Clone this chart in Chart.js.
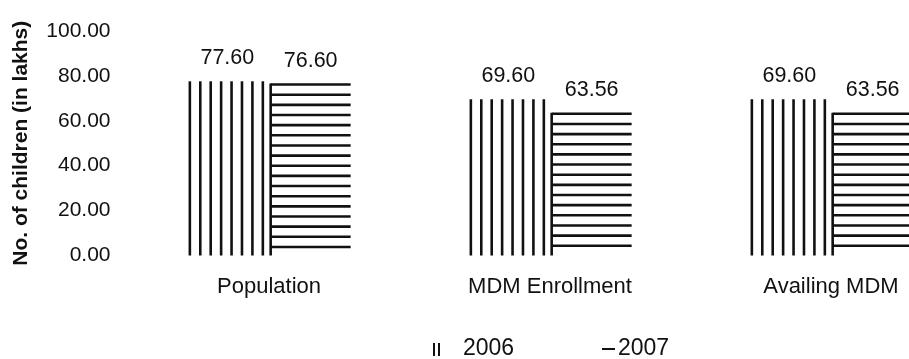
<!DOCTYPE html>
<html>
<head>
<meta charset="utf-8">
<script src="https://cdn.jsdelivr.net/npm/chart.js@4.4.1/dist/chart.umd.min.js"></script>
<style>
  html, body { margin: 0; padding: 0; background: #fff; width: 909px; height: 359px; overflow: hidden; }
  #wrap { position: absolute; left: 0; top: 0; width: 1000px; height: 359px; }
  #legend { position: absolute; left: 0; top: 0; width: 909px; height: 359px; pointer-events: none;
            font-family: "Liberation Sans", Arial, sans-serif; font-size: 23px; color: #111; }
  .lt { position: absolute; top: 334px; line-height: 26px; }
  .sw-v { position: absolute; top: 343px; width: 3px; height: 13px; border-left: 2px solid #111; border-right: 2px solid #111; }
  .sw-h { position: absolute; top: 348px; width: 13px; height: 0; border-top: 2px solid #111; }
</style>
</head>
<body>
<div id="wrap"><canvas id="c" width="1000" height="359"></canvas></div>
<div id="legend">
  <span class="sw-v" style="left:433px"></span>
  <span class="lt" id="l0" style="left:463px"></span>
  <span class="sw-h" style="left:602px"></span>
  <span class="lt" id="l1" style="left:618px"></span>
</div>
<script>
// ---- data ----
const categories = ['Population', 'MDM Enrollment', 'Availing MDM'];
const seriesNames = ['2006', '2007'];
const values2006 = [77.60, 69.60, 69.60];
const values2007 = [76.60, 63.56, 63.56];
const yTickValues = [0, 20, 40, 60, 80, 100];
const yTitle = 'No. of children (in lakhs)';

document.getElementById('l0').textContent = seriesNames[0];
document.getElementById('l1').textContent = seriesNames[1];

const INK = '#111';
const FONT = '"Liberation Sans", Arial, sans-serif';

const patternPlugin = {
  id: 'patterns',
  afterDatasetsDraw(chart) {
    const ctx = chart.ctx;
    ctx.save();
    ctx.strokeStyle = INK;
    ctx.lineWidth = 2.6;
    // 2006: vertical lines
    chart.getDatasetMeta(0).data.forEach(bar => {
      const p = bar.getProps(['x', 'y', 'base', 'width'], true);
      const left = p.x - p.width / 2 + 2.5;
      const right = p.x + p.width / 2 - 4.5;
      const n = 8;
      const step = (right - left) / (n - 1);
      for (let i = 0; i < n; i++) {
        const px = left + i * step;
        ctx.beginPath();
        ctx.moveTo(px, p.y);
        ctx.lineTo(px, p.base);
        ctx.stroke();
      }
    });
    // 2007: left border + horizontal lines
    chart.getDatasetMeta(1).data.forEach(bar => {
      const p = bar.getProps(['x', 'y', 'base', 'width'], true);
      const left = p.x - p.width / 2;
      const right = p.x + p.width / 2;
      ctx.beginPath();
      ctx.moveTo(left, p.y);
      ctx.lineTo(left, p.base);
      ctx.stroke();
      for (let yy = p.y + 1; yy <= p.base - 6; yy += 10.15) {
        ctx.beginPath();
        ctx.moveTo(left, yy);
        ctx.lineTo(right, yy);
        ctx.stroke();
      }
    });
    ctx.restore();
  }
};

const valueLabelPlugin = {
  id: 'valueLabels',
  afterDatasetsDraw(chart) {
    const ctx = chart.ctx;
    ctx.save();
    ctx.fillStyle = INK;
    ctx.font = '21.5px ' + FONT;
    ctx.textAlign = 'center';
    ctx.textBaseline = 'alphabetic';
    chart.data.datasets.forEach((ds, di) => {
      chart.getDatasetMeta(di).data.forEach((bar, i) => {
        ctx.fillText(ds.data[i].toFixed(2), bar.x, bar.y - 17);
      });
    });
    ctx.restore();
  }
};

new Chart(document.getElementById('c'), {
  type: 'bar',
  data: {
    labels: categories,
    datasets: [
      { label: seriesNames[0], data: values2006, backgroundColor: 'rgba(0,0,0,0)', borderWidth: 0 },
      { label: seriesNames[1], data: values2007, backgroundColor: 'rgba(0,0,0,0)', borderWidth: 0 }
    ]
  },
  options: {
    responsive: false,
    animation: false,
    devicePixelRatio: 1,
    categoryPercentage: 0.593,
    barPercentage: 0.96,
    layout: { padding: { top: 31, right: 28.5, bottom: 0, left: 0 } },
    plugins: { legend: { display: false }, tooltip: { enabled: false } },
    scales: {
      x: {
        grid: { display: false, drawTicks: false },
        border: { display: false },
        ticks: { color: INK, font: { family: FONT, size: 22 }, padding: 18, maxRotation: 0 },
        afterFit(s) { s.height = 103.5; }
      },
      y: {
        min: 0, max: 100,
        afterBuildTicks(s) { s.ticks = yTickValues.map(v => ({ value: v })); },
        grid: { display: false, drawTicks: false },
        border: { display: false },
        ticks: { color: INK, font: { family: FONT, size: 21 }, padding: 18,
                 callback: v => Number(v).toFixed(2) },
        title: { display: true, text: yTitle, color: INK,
                 font: { family: FONT, size: 21, weight: 'bold' }, padding: { top: 9, bottom: 0 } },
        afterFit(s) { s.width = 128.5; }
      }
    }
  },
  plugins: [patternPlugin, valueLabelPlugin]
});
</script>
</body>
</html>
